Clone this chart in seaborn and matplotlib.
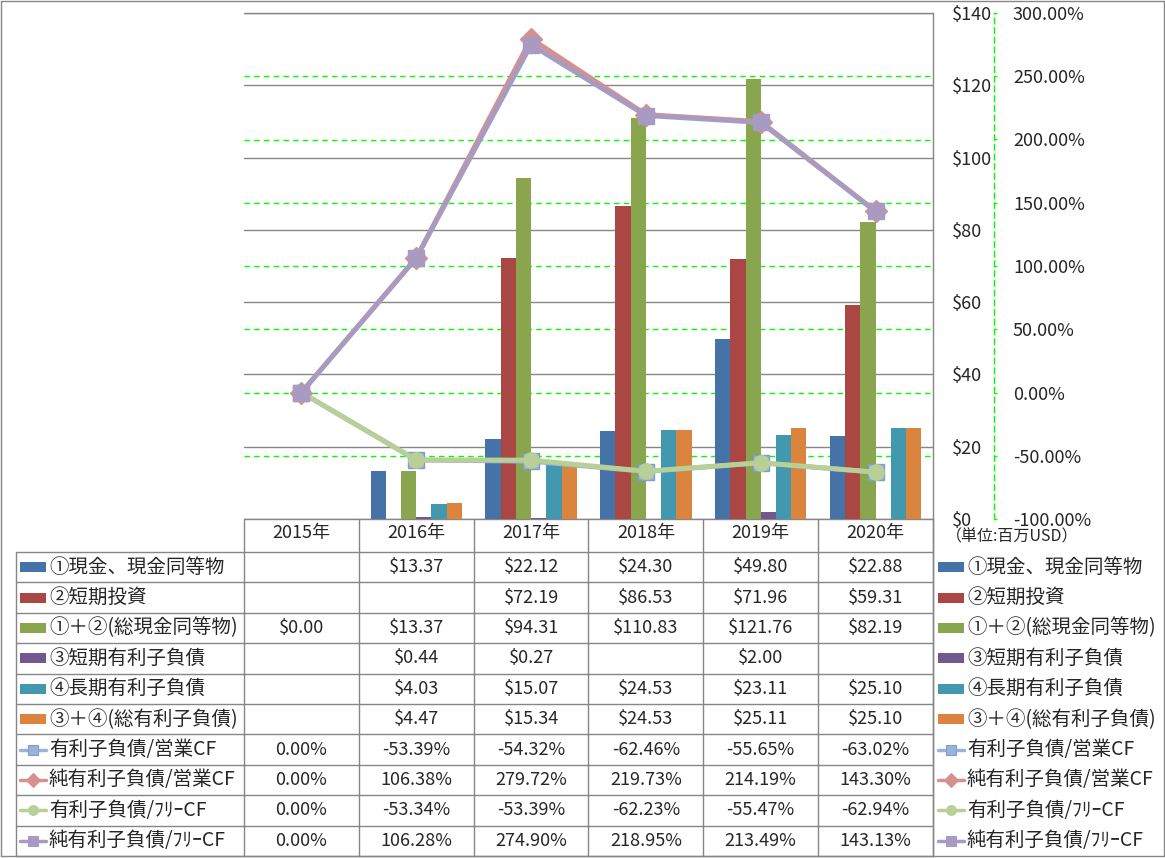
import numpy as np
import pandas as pd
import matplotlib
matplotlib.use('Agg')
import matplotlib.pyplot as plt
import seaborn as sns
from matplotlib.lines import Line2D
from matplotlib.patches import Rectangle
import matplotlib.transforms as mtransforms

# ---------------- data ----------------
years = ['2015年', '2016年', '2017年', '2018年', '2019年', '2020年']
bar_names = ['①現金、現金同等物', '②短期投資', '①＋②(総現金同等物)',
             '③短期有利子負債', '④長期有利子負債', '③＋④(総有利子負債)']
cash = [np.nan, 13.37, 22.12, 24.30, 49.80, 22.88]
st_invest = [np.nan, np.nan, 72.19, 86.53, 71.96, 59.31]
total_cash = [0.00, 13.37, 94.31, 110.83, 121.76, 82.19]
st_debt = [np.nan, 0.44, 0.27, np.nan, 2.00, np.nan]
lt_debt = [np.nan, 4.03, 15.07, 24.53, 23.11, 25.10]
total_debt = [np.nan, 4.47, 15.34, 24.53, 25.11, 25.10]

line_names = ['有利子負債/営業CF', '純有利子負債/営業CF', '有利子負債/ﾌﾘｰCF', '純有利子負債/ﾌﾘｰCF']
debt_ocf = [0.00, -53.39, -54.32, -62.46, -55.65, -63.02]
net_debt_ocf = [0.00, 106.38, 279.72, 219.73, 214.19, 143.30]
debt_fcf = [0.00, -53.34, -53.39, -62.23, -55.47, -62.94]
net_debt_fcf = [0.00, 106.28, 274.90, 218.95, 213.49, 143.13]

primary_ticks = [0, 20, 40, 60, 80, 100, 120, 140]
secondary_ticks = [-100, -50, 0, 50, 100, 150, 200, 250, 300]
unit_label = '（単位:百万USD）'

bar_series = [cash, st_invest, total_cash, st_debt, lt_debt, total_debt]
line_series = [debt_ocf, net_debt_ocf, debt_fcf, net_debt_fcf]

bar_colors = ['#4572A7', '#AA4643', '#89A54E', '#71588F', '#4198AF', '#DB843D']
line_colors = ['#9AB3D8', '#D6918F', '#B8CF95', '#A89BC2']
line_edge = ['#7E9DCC', '#D6918F', '#B8CF95', '#A89BC2']
line_markers = ['s', 'D', 'o', 's']
line_ms = [12, 11, 11, 12]
key_ms = [7, 7, 7, 7]

# ---------------- figure ----------------
W, H = 1165, 858
sns.set_style('white')
plt.rcParams['font.family'] = ['Noto Sans CJK JP', 'DejaVu Sans']
fig = plt.figure(figsize=(W / 100, H / 100), dpi=100)
fig.patch.set_facecolor('white')
PX = mtransforms.Affine2D().scale(1 / W, -1 / H).translate(0, 1) + fig.transFigure

L, R, T, B = 244, 933, 13, 519
ax = fig.add_axes([L / W, 1 - B / H, (R - L) / W, (B - T) / H])

rows = []
for name, vals in zip(bar_names, bar_series):
    for y, v in zip(years, vals):
        rows.append({'year': y, 'series': name, 'value': v})
df = pd.DataFrame(rows).dropna()

sns.barplot(data=df, x='year', y='value', hue='series', order=years,
            hue_order=bar_names, palette=bar_colors, width=0.795,
            saturation=1, linewidth=0, ax=ax, legend=False, zorder=2)
ax.set_xlim(-0.5, len(years) - 0.5)
ax.set_ylim(primary_ticks[0], primary_ticks[-1])
ax.set_xlabel('')
ax.set_ylabel('')
for s in ax.spines.values():
    s.set_visible(False)

# secondary axis with lines
ax2 = ax.twinx()
xpos = np.arange(len(years))
for i, vals in enumerate(line_series):
    sns.lineplot(x=xpos, y=vals, ax=ax2, color=line_colors[i], linewidth=3.5,
                 marker=line_markers[i], markersize=line_ms[i],
                 markeredgecolor=line_edge[i], markeredgewidth=1,
                 markerfacecolor=line_colors[i], legend=False, zorder=3 + i)
ax2.set_ylim(secondary_ticks[0], secondary_ticks[-1])
ax2.set_yticks(secondary_ticks)
ax2.set_yticklabels([f'{v:.2f}%' for v in secondary_ticks])
for lab, v in zip(ax2.get_yticklabels(), secondary_ticks):
    lab.set_color('#FF0000' if v < 0 else 'black')
ax2.set_ylabel('')
for k in ['left', 'top', 'bottom']:
    ax2.spines[k].set_visible(False)
ax2.spines['right'].set_position(('axes', (994 - L) / (R - L)))
ax2.spines['right'].set_color('#00FF00')
ax2.spines['right'].set_linestyle((0, (4, 3)))
ax2.spines['right'].set_linewidth(1)
ax2.tick_params(axis='y', length=2.5, width=1, color='#00FF00',
                pad=(1013 - 994) / 1.389 - 2.5, labelsize=13)

# primary axis ticks on the right
ax.yaxis.tick_right()
ax.set_yticks(primary_ticks)
ax.set_yticklabels([f'${v}' for v in primary_ticks])
ax.tick_params(axis='y', length=0, pad=(952 - R) / 1.389, labelsize=13)
ax.set_xticks(xpos)
ax.set_xticklabels(years)
ax.tick_params(axis='x', length=0, pad=3.5, labelsize=13)

# gridlines
ax.set_axisbelow(True)
ax.grid(axis='y', color='#868686', linewidth=1)
ax.grid(axis='x', visible=False)
ax.axhline(primary_ticks[-1], color='#868686', linewidth=1, clip_on=False, zorder=1)
ax.axhline(primary_ticks[0], color='#868686', linewidth=1, clip_on=False, zorder=1)
s0, s1 = secondary_ticks[0], secondary_ticks[-1]
p0, p1 = primary_ticks[0], primary_ticks[-1]
for s in secondary_ticks[1:-1]:
    ax.axhline(p0 + (s - s0) / (s1 - s0) * (p1 - p0), color='#00FF00',
               linewidth=1, linestyle=(0, (4, 3)), zorder=0.6)

# ---------------- data table ----------------
grid_c = '#868686'
blend = mtransforms.blended_transform_factory(ax.transData, PX)
row_top = 552
row_h = (856 - 552) / 10
nrows = len(bar_names) + len(line_names)

def hline(x0, x1, y, tr=PX):
    fig.add_artist(Line2D([x0, x1], [y, y], transform=tr, color=grid_c, lw=1))

def vline(x, y0, y1, tr=PX):
    fig.add_artist(Line2D([x, x], [y0, y1], transform=tr, color=grid_c, lw=1))

for k in range(nrows + 1):
    hline(16, R, row_top + k * row_h)
vline(16, row_top, 856)
for i in range(len(years) + 1):
    vline(i - 0.5, B, 856, tr=blend)
vline(R, T, 856)
# outer frame
hline(0.5, 1164, 1)
hline(0.5, 1164, 856)
vline(0.5, 1, 856)
vline(1164, 1, 856)

labels_all = bar_names + line_names
cell_vals = []
for vals in bar_series:
    cell_vals.append(['' if np.isnan(v) else f'${v:.2f}' for v in vals])
for vals in line_series:
    cell_vals.append([f'{v:.2f}%' for v in vals])

for r in range(nrows):
    yc = row_top + (r + 0.5) * row_h
    for i, txt in enumerate(cell_vals[r]):
        fig.text(i, yc, txt, transform=blend, ha='center', va='center', fontsize=13)
    for kx, tx in [(20, 49), (938, 967)]:
        if r < len(bar_names):
            fig.add_artist(Rectangle((kx, yc - 5), 26, 10, transform=PX,
                                     facecolor=bar_colors[r], edgecolor='none'))
        else:
            j = r - len(bar_names)
            fig.add_artist(Line2D([kx, kx + 26], [yc, yc], transform=PX,
                                  color=line_colors[j], lw=2.5))
            fig.add_artist(Line2D([kx + 13], [yc], transform=PX,
                                  marker=line_markers[j], ms=key_ms[j],
                                  color=line_colors[j], mec=line_edge[j], mew=0.8))
        fig.text(tx, yc, labels_all[r], transform=PX, ha='left', va='center',
                 fontsize=14)

fig.text(946, 537, unit_label, transform=PX, ha='left', va='center', fontsize=11.5)

fig.savefig('out.png', dpi=100, facecolor='white')
